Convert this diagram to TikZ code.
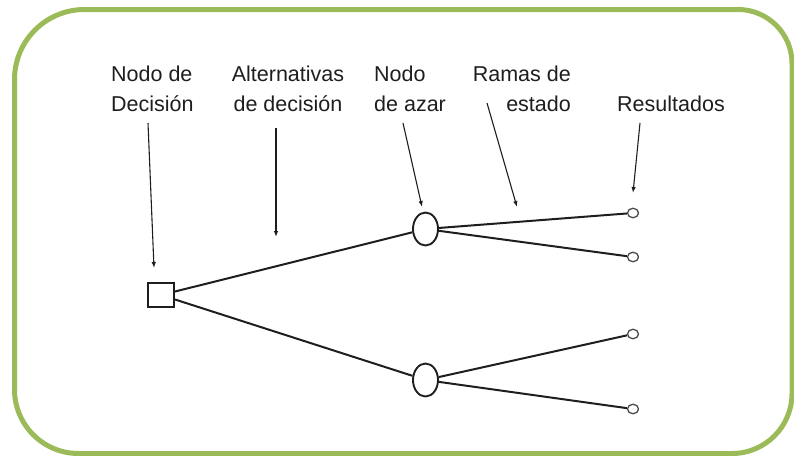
\documentclass[tikz,border=0pt]{standalone}
\usepackage{fontspec}
\setmainfont{Liberation Sans}
\usetikzlibrary{shapes.geometric,arrows.meta}
\definecolor{frameGreen}{RGB}{155,187,89}
\definecolor{ink}{RGB}{30,30,30}

\begin{document}
\begin{tikzpicture}
                \tikzset{x=1pt, y=-1pt, >={Latex[length=6pt,width=4.5pt]}}
                \tikzstyle{lbl}=[inner sep=0pt, text=ink, font=\fontsize{21.5pt}{30pt}\selectfont]
                \tikzstyle{pointer}=[->, line width=1.1pt, ink]
                \tikzstyle{branch}=[line width=2pt, ink]
                \tikzstyle{decision}=[rectangle, draw=ink, line width=1.9pt, inner sep=0pt, minimum width=26pt, minimum height=24pt]
                \tikzstyle{chance}=[ellipse, draw=ink, line width=1.9pt, inner sep=0pt, minimum width=25pt, minimum height=33pt]
                \tikzstyle{outcome}=[ellipse, draw=ink!80, line width=1.3pt, inner sep=0pt, minimum width=11pt, minimum height=9.5pt]

                \useasboundingbox (0,0) rectangle (794,455);
                \draw[frameGreen, line width=5pt] (14.5,240)
                    {[rounded corners=70pt] -- (14.5,9.5) -- (400,9.5)}
                    {[rounded corners=54pt] -- (792,9.5) -- (792,240)}
                    {[rounded corners=60pt] -- (792,453.5) -- (400,453.5)}
                    {[rounded corners=64pt] -- (14.5,453.5) -- (14.5,240)};

                \draw (111, 111)    node[lbl, anchor=base west, align=left]   (lblDec)   {Nodo de\\Decisión};
                \draw (288, 111)    node[lbl, anchor=base, align=center]      (lblAlt)   {Alternativas\\de decisión};
                \draw (374, 111)    node[lbl, anchor=base west, align=left]   (lblAzar)  {Nodo\\de azar};
                \draw (571, 111)    node[lbl, anchor=base east, align=right]  (lblRamas) {Ramas de\\estado};
                \draw (617, 111)    node[lbl, anchor=base west]               (lblRes)   {Resultados};

                \draw (161, 295)    node[decision]  (dec)     {};
                \draw (425.5, 229)  node[chance]    (azarA)   {};
                \draw (425.5, 380)  node[chance]    (azarB)   {};
                \draw (633, 213)    node[outcome]   (resA)    {};
                \draw (633, 257)    node[outcome]   (resB)    {};
                \draw (633, 334)    node[outcome]   (resC)    {};
                \draw (633, 409)    node[outcome]   (resD)    {};

                \coordinate (decFrom)   at (148, 123);
                \coordinate (decTo)     at (154, 268);
                \coordinate (altFrom)   at (276, 128);
                \coordinate (altTo)     at (276, 237);
                \coordinate (azarFrom)  at (403, 123);
                \coordinate (azarTo)    at (422, 207);
                \coordinate (ramasFrom) at (487, 103);
                \coordinate (ramasTo)   at (517, 207);
                \coordinate (resFrom)   at (640, 123);
                \coordinate (resTo)     at (633, 193);

                \draw [branch]      (dec) -- (azarA);
                \draw [branch]      (dec) -- (azarB);
                \draw [branch]      (azarA) -- (resA);
                \draw [branch]      (azarA) -- (resB);
                \draw [branch]      (azarB) -- (resC);
                \draw [branch]      (azarB) -- (resD);

                \draw [pointer]     (decFrom) -- (decTo);
                \draw [pointer]     (altFrom) -- (altTo);
                \draw [pointer]     (azarFrom) -- (azarTo);
                \draw [pointer]     (ramasFrom) -- (ramasTo);
                \draw [pointer]     (resFrom) -- (resTo);
            \end{tikzpicture}
\end{document}
